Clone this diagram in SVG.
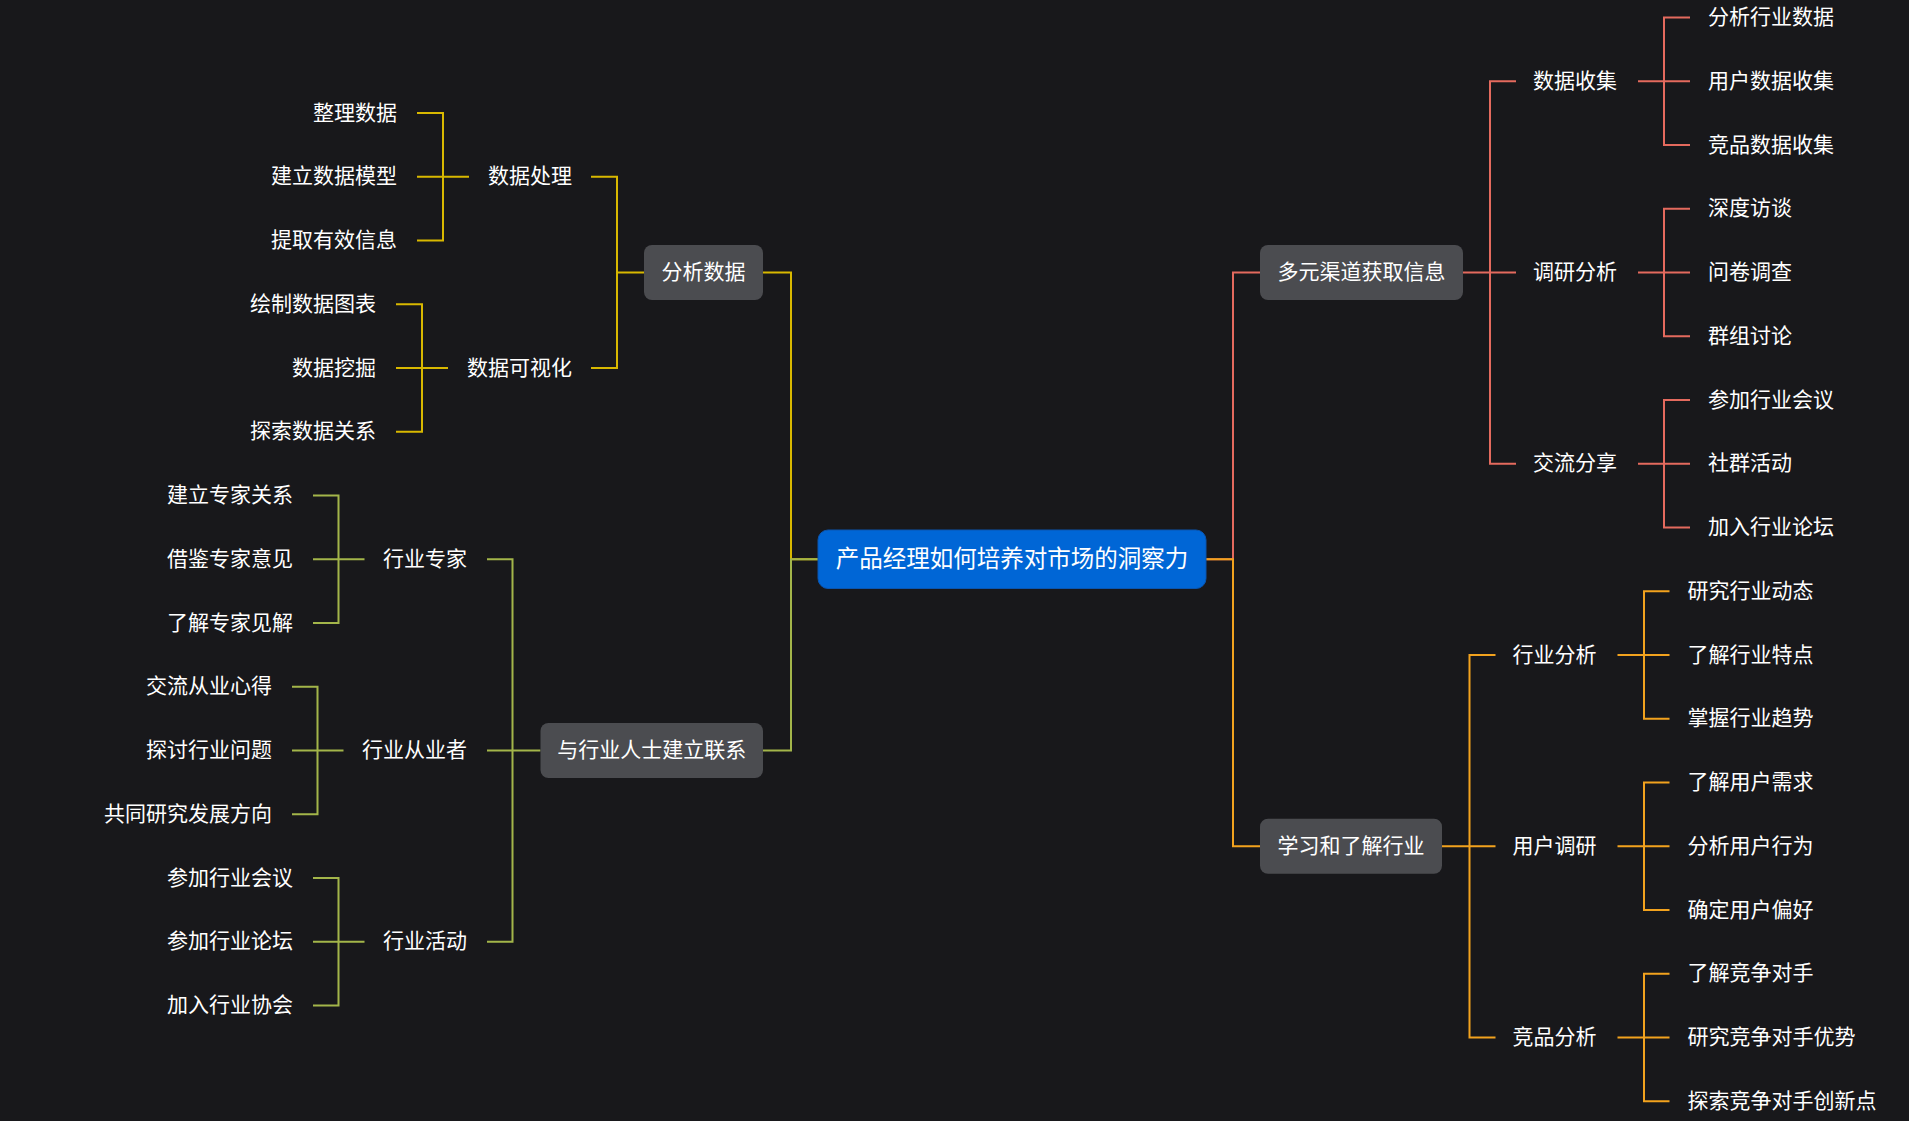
<svg xmlns="http://www.w3.org/2000/svg" width="1909" height="1121" viewBox="0 0 1909 1121">
<style>
text{font-family:"Noto Sans CJK SC","Microsoft YaHei",sans-serif;fill:#ffffff;dominant-baseline:central;font-size:21px;transform:translate(0px,-2.5px)}
.root text{font-size:23.5px}
.c{text-anchor:middle}
.e{text-anchor:end}
.box{fill:#4b4c50}
path{fill:none;stroke-width:2}
.r{stroke:#e46a5e}
.o{stroke:#f2a21e}
.y{stroke:#d8b800}
.g{stroke:#a3b54a}
</style>
<rect width="1909" height="1121" fill="#18181b"/>
<g id="connectors">
<path class="y" d="M818 559.25H791V272.5H763"/>
<path class="g" d="M818 559.25H791V750.5H763"/>
<path class="r" d="M1206 559.25H1233V272.5H1260"/>
<path class="o" d="M1206 559.25H1233V846.25H1260"/>
<path class="y" d="M644 272.5H617V176.75H591M644 272.5H617V368H591"/>
<path class="g" d="M540.5 750.5H512.5V559.25H487M540.5 750.5H487M540.5 750.5H512.5V941.75H487"/>
<path class="r" d="M1463 272.5H1490V81.25H1516M1463 272.5H1516M1463 272.5H1490V463.75H1516"/>
<path class="o" d="M1442 846.25H1469.5V655H1495.5M1442 846.25H1495.5M1442 846.25H1469.5V1037.5H1495.5"/>
<path class="r" d="M1638 81.25H1664V17.5H1690M1638 81.25H1690M1638 81.25H1664V145H1690"/>
<path class="r" d="M1638 272.5H1664V208.75H1690M1638 272.5H1690M1638 272.5H1664V336.25H1690"/>
<path class="r" d="M1638 463.75H1664V400H1690M1638 463.75H1690M1638 463.75H1664V527.5H1690"/>
<path class="o" d="M1617.5 655H1644V591.25H1669.5M1617.5 655H1669.5M1617.5 655H1644V718.75H1669.5"/>
<path class="o" d="M1617.5 846.25H1644V782.5H1669.5M1617.5 846.25H1669.5M1617.5 846.25H1644V910H1669.5"/>
<path class="o" d="M1617.5 1037.5H1644V973.75H1669.5M1617.5 1037.5H1669.5M1617.5 1037.5H1644V1101.25H1669.5"/>
<path class="y" d="M469 176.75H443V113H417M469 176.75H417M469 176.75H443V240.5H417"/>
<path class="y" d="M448 368H422V304.25H396M448 368H396M448 368H422V431.75H396"/>
<path class="g" d="M364.5 559.25H338.5V495.5H313M364.5 559.25H313M364.5 559.25H338.5V623H313"/>
<path class="g" d="M343.5 750.5H317.5V686.75H292M343.5 750.5H292M343.5 750.5H317.5V814.25H292"/>
<path class="g" d="M364.5 941.75H338.5V878H313M364.5 941.75H313M364.5 941.75H338.5V1005.5H313"/>
</g>
<g id="root" class="root">
<rect x="818" y="530" width="388" height="58.5" rx="10" fill="#0066d6" stroke="#0a55b0" stroke-width="1"/>
<text class="c" x="1012" y="559.25">产品经理如何培养对市场的洞察力</text>
</g>
<g id="n-fenxishuju"><rect class="box" x="644" y="245" width="119" height="55" rx="8"/><text class="c" x="703.5" y="272.5">分析数据</text></g>
<g id="n-lianxi"><rect class="box" x="540.5" y="723" width="222.5" height="55" rx="8"/><text class="c" x="651.75" y="750.5">与行业人士建立联系</text></g>
<g id="n-duoyuan"><rect class="box" x="1260" y="245" width="203" height="55" rx="8"/><text class="c" x="1361.5" y="272.5">多元渠道获取信息</text></g>
<g id="n-xuexi"><rect class="box" x="1260" y="818.75" width="182" height="55" rx="8"/><text class="c" x="1351" y="846.25">学习和了解行业</text></g>
<g id="n-shujuchuli"><text class="e" x="572" y="176.75">数据处理</text></g>
<g id="n-keshihua"><text class="e" x="572" y="368">数据可视化</text></g>
<g id="n-zhuanjia"><text class="e" x="467" y="559.25">行业专家</text></g>
<g id="n-congyezhe"><text class="e" x="467" y="750.5">行业从业者</text></g>
<g id="n-huodong"><text class="e" x="467" y="941.75">行业活动</text></g>
<g id="n-l3-0"><text class="e" x="397" y="113">整理数据</text></g>
<g id="n-l3-1"><text class="e" x="397" y="176.75">建立数据模型</text></g>
<g id="n-l3-2"><text class="e" x="397" y="240.5">提取有效信息</text></g>
<g id="n-l3-3"><text class="e" x="376" y="304.25">绘制数据图表</text></g>
<g id="n-l3-4"><text class="e" x="376" y="368">数据挖掘</text></g>
<g id="n-l3-5"><text class="e" x="376" y="431.75">探索数据关系</text></g>
<g id="n-l3-6"><text class="e" x="293" y="495.5">建立专家关系</text></g>
<g id="n-l3-7"><text class="e" x="293" y="559.25">借鉴专家意见</text></g>
<g id="n-l3-8"><text class="e" x="293" y="623">了解专家见解</text></g>
<g id="n-l3-9"><text class="e" x="272" y="686.75">交流从业心得</text></g>
<g id="n-l3-10"><text class="e" x="272" y="750.5">探讨行业问题</text></g>
<g id="n-l3-11"><text class="e" x="272" y="814.25">共同研究发展方向</text></g>
<g id="n-l3-12"><text class="e" x="293" y="878">参加行业会议</text></g>
<g id="n-l3-13"><text class="e" x="293" y="941.75">参加行业论坛</text></g>
<g id="n-l3-14"><text class="e" x="293" y="1005.5">加入行业协会</text></g>
<g id="n-shoujii"><text x="1533" y="81.25">数据收集</text></g>
<g id="n-diaoyan"><text x="1533" y="272.5">调研分析</text></g>
<g id="n-jiaoliu"><text x="1533" y="463.75">交流分享</text></g>
<g id="n-hangye"><text x="1512.5" y="655">行业分析</text></g>
<g id="n-yonghu"><text x="1512.5" y="846.25">用户调研</text></g>
<g id="n-jingpin"><text x="1512.5" y="1037.5">竞品分析</text></g>
<g id="n-r3-0"><text x="1708" y="17.5">分析行业数据</text></g>
<g id="n-r3-1"><text x="1708" y="81.25">用户数据收集</text></g>
<g id="n-r3-2"><text x="1708" y="145">竞品数据收集</text></g>
<g id="n-r3-3"><text x="1708" y="208.75">深度访谈</text></g>
<g id="n-r3-4"><text x="1708" y="272.5">问卷调查</text></g>
<g id="n-r3-5"><text x="1708" y="336.25">群组讨论</text></g>
<g id="n-r3-6"><text x="1708" y="400">参加行业会议</text></g>
<g id="n-r3-7"><text x="1708" y="463.75">社群活动</text></g>
<g id="n-r3-8"><text x="1708" y="527.5">加入行业论坛</text></g>
<g id="n-r3-9"><text x="1687.5" y="591.25">研究行业动态</text></g>
<g id="n-r3-10"><text x="1687.5" y="655">了解行业特点</text></g>
<g id="n-r3-11"><text x="1687.5" y="718.75">掌握行业趋势</text></g>
<g id="n-r3-12"><text x="1687.5" y="782.5">了解用户需求</text></g>
<g id="n-r3-13"><text x="1687.5" y="846.25">分析用户行为</text></g>
<g id="n-r3-14"><text x="1687.5" y="910">确定用户偏好</text></g>
<g id="n-r3-15"><text x="1687.5" y="973.75">了解竞争对手</text></g>
<g id="n-r3-16"><text x="1687.5" y="1037.5">研究竞争对手优势</text></g>
<g id="n-r3-17"><text x="1687.5" y="1101.25">探索竞争对手创新点</text></g>
</svg>
